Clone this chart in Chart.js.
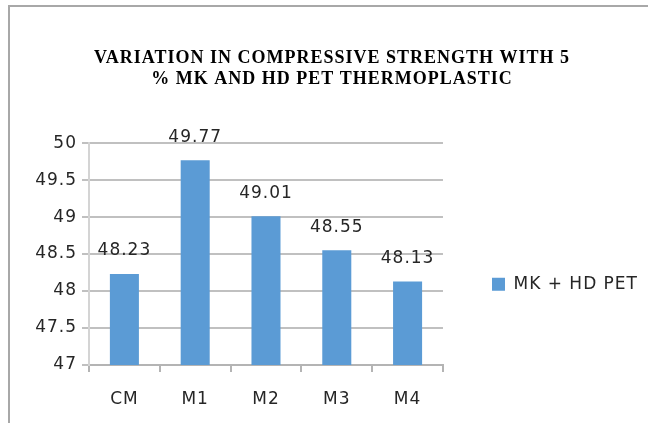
<!DOCTYPE html>
<html lang="en">
<head>
<meta charset="UTF-8">
<title>Compressive strength</title>
<style>
  html, body { margin: 0; background: #fff; overflow: hidden; }
  #frame { position: absolute; left: 8px; top: 5px; width: 638px; height: 416px;
           border-left: 2px solid #a8a8a8; border-top: 2px solid #a8a8a8; }
  #wrap { position: absolute; left: 0; top: 0; width: 648px; height: 423px; }
</style>
<script src="https://cdn.jsdelivr.net/npm/chart.js"></script>
</head>
<body>
<div id="frame"></div>
<div id="wrap"><canvas id="chart"></canvas></div>
<script>
const categories = ['CM', 'M1', 'M2', 'M3', 'M4'];
const strength = [48.23, 49.77, 49.01, 48.55, 48.13];
const seriesName = 'MK + HD PET';
const titleLines = ['VARIATION IN COMPRESSIVE STRENGTH WITH 5', '% MK AND HD PET THERMOPLASTIC'];

const sans = 'DejaVu Sans';
const textColor = '#262626';

// wider text, like the original rendering
const spacing = {
  id: 'spacing',
  beforeUpdate(chart) { chart.ctx.letterSpacing = '1px'; },
  beforeDraw(chart) { chart.ctx.letterSpacing = '1px'; }
};

const valueLabels = {
  id: 'valueLabels',
  afterDatasetsDraw(chart) {
    const ctx = chart.ctx;
    const meta = chart.getDatasetMeta(0);
    ctx.save();
    ctx.font = '17px "' + sans + '"';
    ctx.fillStyle = textColor;
    ctx.textAlign = 'center';
    ctx.textBaseline = 'middle';
    meta.data.forEach((bar, i) => {
      ctx.fillText(String(chart.data.datasets[0].data[i]), bar.x, bar.y - 23);
    });
    ctx.restore();
  }
};

new Chart(document.getElementById('chart'), {
  type: 'bar',
  data: {
    labels: categories,
    datasets: [{
      label: seriesName,
      data: strength,
      backgroundColor: '#5b9bd5',
      barPercentage: 0.41,
      categoryPercentage: 1
    }]
  },
  options: {
    responsive: true,
    maintainAspectRatio: false,
    animation: false,
    layout: { padding: { left: 16, right: 0, top: 0, bottom: 0 } },
    plugins: {
      title: {
        display: true,
        text: titleLines,
        color: '#000',
        font: { family: 'Liberation Serif', size: 18, weight: 'bold', lineHeight: 1.17 },
        padding: { top: 48, bottom: 53 }
      },
      legend: {
        position: 'right',
        fullSize: false,
        maxWidth: 260,
        title: { display: true, text: '', padding: { top: 46, bottom: 0 } },
        labels: {
          boxWidth: 13, boxHeight: 13, padding: 49,
          color: textColor,
          font: { family: sans, size: 17 }
        }
      },
      tooltip: { enabled: false }
    },
    scales: {
      x: {
        afterFit(scale) { scale.height = 58; },
        grid: { offset: true, drawOnChartArea: false, tickLength: 7, color: '#b4b4b4', lineWidth: 2 },
        border: { color: '#b4b4b4', width: 2 },
        ticks: { color: textColor, padding: 17, font: { family: sans, size: 17 } }
      },
      y: {
        min: 47, max: 50,
        afterFit(scale) { scale.width = 73; },
        grid: { color: '#c0c0c0', lineWidth: 2, tickLength: 7 },
        border: { color: '#d4d4d4', width: 2 },
        ticks: {
          stepSize: 0.5, color: textColor, padding: 5,
          font: { family: sans, size: 17 },
          callback: v => String(Math.round(v * 10) / 10)
        }
      }
    }
  },
  plugins: [spacing, valueLabels]
});
</script>
</body>
</html>
